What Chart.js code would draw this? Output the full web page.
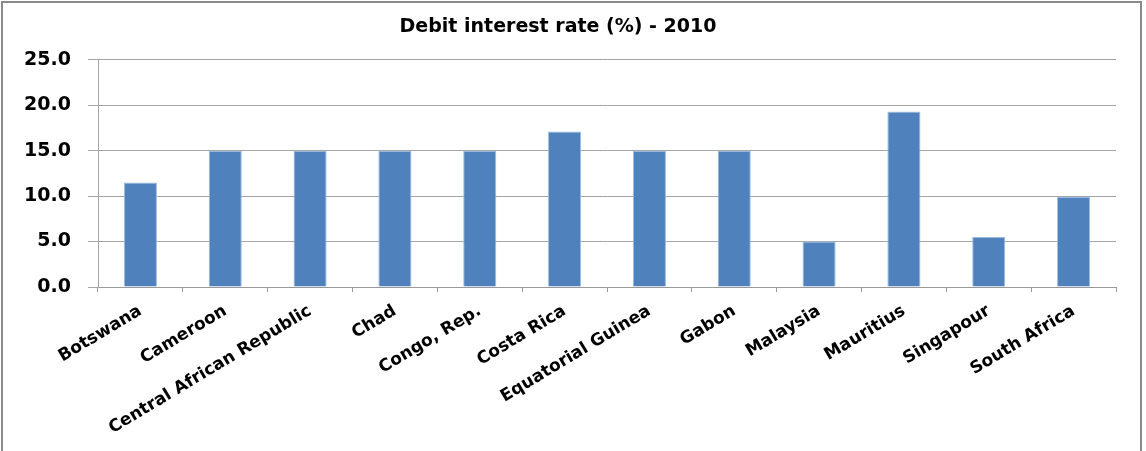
<!DOCTYPE html>
<html>
<head>
<meta charset="utf-8">
<script src="https://cdn.jsdelivr.net/npm/chart.js"></script>
<style>
    html, body { margin: 0; padding: 0; background: #fff; }
    #wrap { width: 1146px; height: 451px; position: relative; }
</style>
</head>
<body>
<div id="wrap"><canvas id="rateChart" width="1146" height="451"></canvas></div>
<script>
const countries = ['Botswana', 'Cameroon', 'Central African Republic', 'Chad', 'Congo, Rep.', 'Costa Rica',
    'Equatorial Guinea', 'Gabon', 'Malaysia', 'Mauritius', 'Singapour', 'South Africa'];
const rates = [11.5, 15.0, 15.0, 15.0, 15.0, 17.1, 15.0, 15.0, 5.0, 19.3, 5.5, 9.9];
const yTicks = [0, 5, 10, 15, 20, 25];

const frame = {
    id: 'frame',
    beforeDraw: function (chart) {
        const c = chart.ctx;
        c.save();
        c.fillStyle = '#fff';
        c.fillRect(0, 0, chart.width, chart.height);
        c.strokeStyle = '#8a8a8a';
        c.lineWidth = 2;
        c.strokeRect(2, 2, 1139, 470);
        c.restore();
    }
};

const font = "'DejaVu Sans', sans-serif";

new Chart(document.getElementById('rateChart'), {
    type: 'bar',
    data: {
        labels: countries,
        datasets: [{
            data: rates,
            backgroundColor: '#4f81bd',
            borderColor: '#9dbbe0',
            borderWidth: 1,
            barPercentage: 0.39,
            categoryPercentage: 1.0
        }]
    },
    options: {
        responsive: false,
        animation: false,
        layout: { padding: { left: 0, right: 30, top: 0, bottom: 0 } },
        plugins: {
            legend: { display: false },
            tooltip: { enabled: false },
            title: {
                display: true,
                text: 'Debit interest rate (%) - 2010',
                color: '#000',
                font: { family: font, size: 19, weight: 'bold', lineHeight: 1.2 },
                padding: { top: 16, bottom: 21 }
            }
        },
        scales: {
            x: {
                grid: { display: true, drawOnChartArea: false, drawTicks: true, tickLength: 5, color: '#999' },
                border: { display: true, color: '#999' },
                ticks: {
                    color: '#000',
                    font: { family: font, size: 17, weight: 'bold' },
                    minRotation: 31,
                    maxRotation: 31,
                    autoSkip: false,
                    padding: 9
                },
                afterFit: function (scale) { scale.height = 164; }
            },
            y: {
                min: 0,
                max: 25,
                afterBuildTicks: function (scale) {
                    scale.ticks = yTicks.map(v => ({ value: v }));
                },
                grid: { color: '#a6a6a6', tickLength: 10 },
                border: { display: true, color: '#a6a6a6' },
                ticks: {
                    color: '#000',
                    font: { family: font, size: 19, weight: 'bold' },
                    padding: 17,
                    callback: function (value) { return Number(value).toFixed(1); }
                },
                afterFit: function (scale) { scale.width = 98; }
            }
        }
    },
    plugins: [frame]
});
</script>
</body>
</html>
